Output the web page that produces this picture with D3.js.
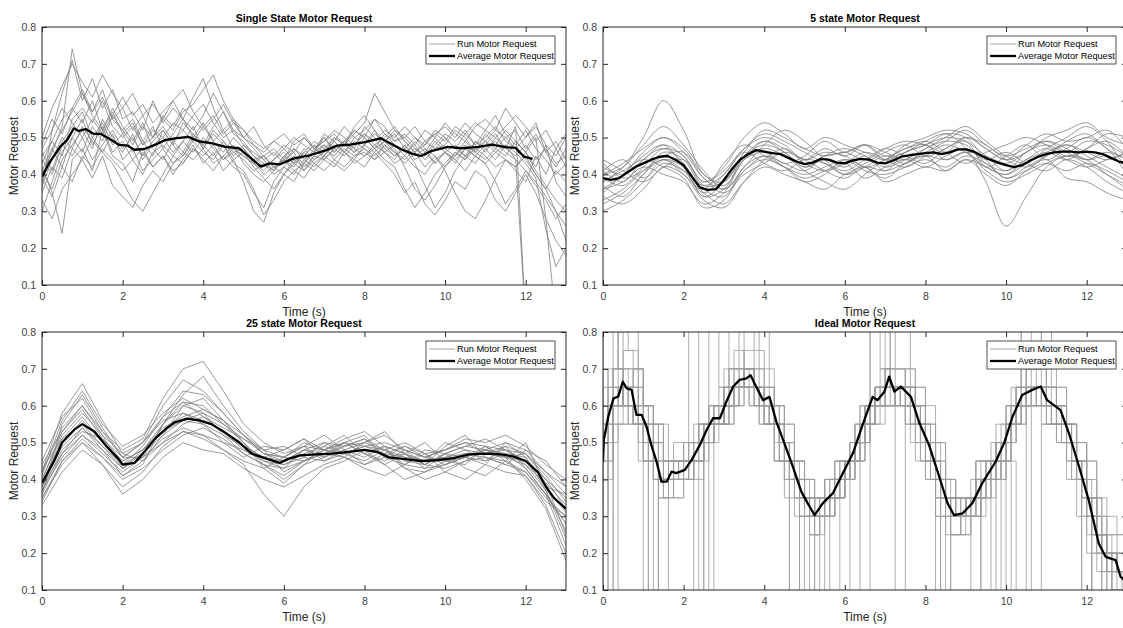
<!DOCTYPE html>
<html>
<head>
<meta charset="utf-8">
<script src="https://cdn.jsdelivr.net/npm/d3@7"></script>
<style>
  body { margin: 0; background: #fff; }
  svg text { font-family: "Liberation Sans", Arial, Helvetica, sans-serif; }
</style>
</head>
<body>
<div id="chart"></div>
<script>
// ---- data ----
var chartTitles = ["Single State Motor Request", "5 state Motor Request", "25 state Motor Request", "Ideal Motor Request"];
var legendLabels = ["Run Motor Request", "Average Motor Request"];
var xTicks = [0, 2, 4, 6, 8, 10, 12];
var yTicks = [0.1, 0.2, 0.3, 0.4, 0.5, 0.6, 0.7, 0.8];

// run values are in hundredths, one every runStep seconds from t = 0
var singleRunStep = 0.25;
var singleRuns = [
  [36,52,62,71, 60,66,58,63, 55,57,52,60, 54,58,55,61, 66,58,52,55, 50,48,45,47, 44,49,51,47, 50,46,49,52, 50,55,53,49, 50,47,45,48, 51,49,52,48, 50,53,49,47, 44,40,36,30, 22],
  [42,35,24,44, 47,41,52,45, 43,38,46,42, 45,40,44,48, 43,46,41,44, 38,30,27,35, 40,38,43,41, 44,42,46,43, 45,47,44,42, 36,31,35,40, 43,46,44,47, 45,42,44,41, 38,45,40,47, 42],
  [45,49,55,58, 63,57,61,55, 52,55,49,53, 47,51,55,50, 48,45,49,46, 44,41,43,40, 42,45,43,47, 45,49,46,50, 48,52,47,45, 48,44,46,50, 47,45,49,46, 51,48,52,49, 46,50,28,0, 0],
  [30,38,46,50, 55,48,53,46, 49,44,47,42, 45,41,43,47, 45,48,44,46, 47,43,45,42, 44,46,41,44, 47,45,48,46, 50,47,49,46, 44,47,45,49, 46,48,45,47, 49,46,48,44, 41,38,34,30, 26],
  [40,46,53,74, 62,57,63,55, 58,52,56,50, 53,49,52,56, 59,54,50,52, 48,46,44,46, 43,47,45,48, 46,50,48,51, 54,62,57,52, 49,46,48,52, 50,47,51,54, 52,56,51,48, 52,47,44,40, 43],
  [33,28,36,40, 44,39,45,37, 34,31,37,41, 38,43,46,44, 47,43,45,42, 40,35,31,38, 42,40,44,42, 45,43,41,44, 42,46,43,40, 35,38,32,29, 33,38,36,41, 39,33,30,35, 40,35,28,22, 18],
  [48,55,51,58, 54,60,52,57, 51,54,48,50, 55,52,57,59, 63,67,60,55, 52,49,47,49, 51,48,50,47, 49,52,50,48, 51,49,52,50, 53,50,48,51, 53,50,54,51, 49,52,50,47, 50,54,46,42, 47],
  [41,36,44,48, 52,47,55,50, 46,51,44,48, 50,46,49,53, 47,51,48,44, 46,42,39,36, 40,44,42,45, 48,44,47,45, 46,44,48,45, 47,50,47,45, 42,45,48,46, 44,47,45,49, 46,42,48,38, 34],
  [38,47,42,50, 46,53,49,56, 61,56,59,54, 57,60,55,52, 56,62,57,51, 49,45,43,41, 45,47,44,46, 50,47,49,47, 53,50,46,48, 45,49,46,43, 46,44,47,45, 48,51,47,53, 0],
  [44,40,48,45, 50,44,48,52, 47,50,45,49, 52,48,45,50, 54,49,52,47, 45,43,41,44, 46,43,45,48, 44,47,49,46, 48,51,49,47, 42,36,33,37, 42,46,44,49, 47,44,48,46, 43,39,25,15, 20],
  [46,41,49,53, 57,50,54,48, 51,46,49,45, 52,48,54,51, 47,52,49,45, 48,45,42,44, 47,44,46,49, 47,50,48,52, 50,47,51,48, 46,48,44,47, 50,47,45,49, 46,50,47,45, 48,44,47,43, 45],
  [35,42,39,47, 44,50,46,43, 38,33,30,35, 40,45,43,47, 44,41,45,48, 43,40,38,41, 44,42,46,43, 45,48,46,49, 47,45,48,46, 43,46,42,45, 41,35,30,28, 33,39,44,42, 46,41,37,33, 30],
  [50,58,64,70, 65,61,67,62, 58,62,56,59, 55,60,63,57, 53,56,51,54, 52,48,46,49, 47,50,48,46, 51,49,53,50, 52,55,51,49, 51,48,52,50, 54,51,49,53, 55,52,58,54, 50,53,48,45, 50],
  [37,44,50,47, 53,49,46,51, 44,47,41,44, 47,43,45,49, 46,44,48,43, 41,36,29,33, 38,41,39,43, 41,44,42,45, 47,44,46,43, 45,42,40,44, 46,43,47,45, 43,46,44,42, 45,40,36,41, 38],
  [43,49,45,55, 58,54,60,53, 50,53,48,52, 50,54,52,49, 53,49,46,50, 47,44,45,42, 40,43,41,45, 44,47,45,48, 51,48,50,53, 49,46,49,47, 48,52,50,46, 49,47,50,52, 47,51,46,49, 44],
  [41,47,52,57, 62,56,52,58, 53,49,54,47, 44,49,46,51, 48,53,57,52, 50,47,44,41, 45,43,47,44, 46,49,46,44, 48,46,49,51, 47,43,37,31, 35,41,45,43, 47,49,46,44, 0],
  [39,34,42,38, 45,42,47,44, 41,44,40,46, 48,45,49,46, 50,47,44,47, 45,43,40,42, 44,41,43,46, 48,46,49,47, 45,48,46,44, 48,45,47,43, 46,44,41,45, 43,38,32,36, 41,37,33,28, 32],
  [47,52,58,54, 50,55,51,56, 52,48,53,50, 56,53,58,55, 52,55,59,54, 50,53,48,45, 48,46,50,47, 49,51,48,53, 56,52,49,52, 50,53,49,51, 49,53,51,48, 52,50,53,56, 53,49,52,47, 51]
];
var singleAvgTime = [0,0.2,0.45,0.62,0.79,0.91,1.08,1.29,1.46,1.7,1.92,2.13,2.29,2.54,2.8,3.05,3.3,3.63,3.88,4.2,4.55,4.89,5.14,5.43,5.64,5.89,6.23,6.64,7.06,7.31,7.65,7.98,8.4,8.65,8.9,9.16,9.4,9.65,10.07,10.41,10.83,11.16,11.5,11.75,11.96,12.17];
var singleAvgValue = [0.394,0.435,0.475,0.493,0.525,0.518,0.523,0.51,0.51,0.495,0.48,0.478,0.467,0.469,0.48,0.493,0.498,0.502,0.49,0.485,0.475,0.471,0.448,0.421,0.43,0.427,0.443,0.452,0.466,0.478,0.481,0.487,0.498,0.484,0.469,0.457,0.45,0.463,0.475,0.471,0.475,0.481,0.474,0.472,0.448,0.442];

var fiveRunStep = 0.5;
var fiveRuns = [
  [38,42,50,60,52,40,38,46,52,50,47,45,46,44,47,49,48,46,50,47,44,48,51,49,50,52,47],
  [34,32,36,42,40,33,31,38,44,47,43,41,43,46,44,42,45,48,46,42,40,43,46,44,47,49,45],
  [40,43,47,50,46,39,36,42,48,52,49,44,40,42,45,43,47,50,53,49,45,43,47,50,53,49,41],
  [30,33,38,44,42,35,32,38,42,40,38,36,40,42,38,40,42,41,44,40,37,41,44,39,38,35,33],
  [42,40,44,48,45,38,42,50,54,51,47,50,48,46,44,48,50,52,51,47,44,46,50,52,54,50,48],
  [36,38,42,40,38,32,35,44,47,45,41,38,36,40,44,46,49,51,47,38,26,34,42,45,44,40,36],
  [44,41,38,42,44,38,41,47,50,48,44,47,45,48,46,44,46,49,52,48,45,47,49,46,44,46,44],
  [32,35,40,46,44,36,34,42,45,42,38,40,44,42,39,43,45,41,44,42,40,44,46,48,45,42,39],
  [39,37,42,47,45,37,38,44,46,43,45,49,46,48,45,47,49,46,43,46,48,50,48,45,47,51,50],
  [35,40,45,48,42,34,36,45,49,46,42,44,42,45,41,46,48,51,50,44,39,42,45,48,46,44,46],
  [41,44,39,43,41,37,40,46,43,41,44,43,41,44,47,45,43,47,49,42,45,48,44,47,50,47,40],
  [37,34,40,44,40,36,43,48,45,42,39,41,43,39,42,44,42,45,47,44,46,43,41,44,42,38,35],
  [36,40,46,50,47,40,37,44,49,47,44,46,45,42,44,47,48,44,46,45,43,46,49,47,44,45,42],
  [43,39,41,44,41,35,40,47,51,49,46,43,40,43,46,48,45,47,50,48,44,42,45,49,51,47,44],
  [40,42,48,53,48,41,36,41,45,43,41,45,47,45,42,44,47,49,48,43,41,44,47,44,42,44,46],
  [33,36,41,45,46,39,35,40,43,46,44,41,39,42,41,43,45,44,46,41,38,40,43,45,43,40,37],
  [41,38,44,47,43,34,38,45,48,46,42,45,46,48,44,46,48,50,49,45,41,46,48,46,49,48,45],
  [38,41,44,42,39,31,33,41,44,42,40,42,44,41,40,42,44,42,45,43,39,41,43,41,43,41,38]
];
var fiveAvgTime = [0,0.2,0.4,0.6,0.8,1.0,1.2,1.4,1.6,1.8,2.0,2.2,2.4,2.6,2.8,3.0,3.2,3.4,3.6,3.8,4.0,4.2,4.4,4.6,4.8,5.0,5.2,5.4,5.6,5.8,6.0,6.2,6.4,6.6,6.8,7.0,7.2,7.4,7.6,7.8,8.0,8.2,8.4,8.6,8.8,9.0,9.2,9.4,9.6,9.8,10.0,10.2,10.4,10.6,10.8,11.0,11.2,11.4,11.6,11.8,12.0,12.2,12.4,12.6,12.8,13.0];
var fiveAvgValue = [0.39,0.385,0.39,0.405,0.42,0.43,0.44,0.448,0.45,0.44,0.425,0.395,0.365,0.358,0.36,0.385,0.415,0.44,0.455,0.466,0.462,0.458,0.455,0.445,0.435,0.428,0.432,0.442,0.44,0.432,0.43,0.438,0.442,0.44,0.432,0.43,0.438,0.448,0.452,0.455,0.458,0.46,0.455,0.46,0.468,0.468,0.462,0.45,0.44,0.432,0.425,0.42,0.425,0.438,0.448,0.455,0.46,0.462,0.462,0.46,0.462,0.46,0.455,0.445,0.435,0.43];

var twentyFiveRunStep = 0.5;
var twentyFiveRuns = [
  [36,55,63,54,46,50,60,67,64,58,52,47,45,48,50,49,51,46,49,46,48,50,47,49,43,36,28],
  [42,58,66,56,47,45,52,60,62,56,50,44,40,44,49,52,47,44,47,50,45,44,49,46,47,40,32],
  [38,47,52,48,41,44,55,63,68,60,53,48,42,45,48,46,50,52,48,44,47,49,51,48,44,39,25],
  [40,52,58,52,47,50,56,58,55,50,46,49,48,51,46,50,47,49,43,42,45,46,44,50,48,42,36],
  [35,45,50,44,38,42,49,53,51,48,44,36,30,38,43,45,48,44,40,42,44,46,49,45,41,33,20],
  [44,53,60,53,48,51,62,70,72,64,55,50,47,49,52,48,50,53,47,44,49,52,46,44,48,45,38],
  [33,42,48,44,36,40,46,50,48,47,43,40,38,41,44,46,43,41,44,47,42,40,44,42,41,34,30],
  [39,50,56,50,45,48,53,56,58,55,51,47,46,50,48,51,53,49,47,45,50,48,45,49,47,41,34],
  [41,56,64,55,49,52,58,62,59,56,52,48,49,46,50,47,49,50,48,46,48,51,50,52,49,44,40],
  [37,46,52,47,42,46,51,54,52,48,45,43,46,49,45,48,44,47,43,40,42,45,48,46,40,32,18],
  [43,51,55,49,44,49,57,61,57,53,48,46,48,51,48,47,45,48,50,47,44,47,46,45,50,38,36],
  [34,45,51,46,40,43,48,52,54,51,47,44,41,45,47,50,52,46,44,48,47,43,41,45,42,35,30],
  [40,53,59,51,45,48,55,61,60,55,50,45,44,47,49,47,49,48,45,44,47,49,48,46,44,37,26],
  [37,48,53,51,46,46,50,55,57,54,51,48,46,45,48,50,47,45,48,46,45,46,48,50,46,39,33],
  [42,54,60,52,43,46,55,60,58,52,47,44,43,48,46,49,51,48,44,43,47,46,45,47,43,36,22],
  [38,49,54,48,43,47,52,56,55,52,49,46,44,46,45,47,48,47,46,45,46,48,47,46,45,40,35],
  [35,44,50,46,41,45,50,53,52,50,48,45,43,45,47,46,44,46,47,44,43,45,46,44,42,36,28],
  [45,57,62,53,46,50,57,64,63,58,52,47,46,49,48,50,49,47,49,47,48,50,49,48,47,42,38],
  [39,51,57,50,44,47,53,58,56,53,49,46,45,48,47,49,50,48,46,45,46,47,47,48,45,38,31],
  [36,47,54,49,43,48,54,57,59,56,50,43,39,44,46,48,46,49,47,43,44,46,48,47,46,37,24]
];
var twentyFiveAvgTime = [0,0.3,0.5,0.8,1.0,1.3,1.6,1.9,2.0,2.3,2.5,2.8,3.1,3.3,3.6,3.9,4.2,4.5,4.9,5.2,5.6,5.9,6.1,6.4,6.8,7.2,7.6,8.0,8.3,8.6,9.0,9.4,9.8,10.2,10.6,11.0,11.4,11.7,12.0,12.3,12.5,12.7,12.9,13.0];
var twentyFiveAvgValue = [0.39,0.45,0.5,0.535,0.55,0.53,0.49,0.455,0.44,0.445,0.47,0.51,0.54,0.555,0.565,0.56,0.55,0.53,0.5,0.47,0.455,0.445,0.455,0.465,0.468,0.47,0.475,0.48,0.475,0.46,0.455,0.45,0.452,0.458,0.468,0.47,0.468,0.462,0.45,0.42,0.38,0.35,0.33,0.32];

var idealRunStep = 0.25;
var idealRuns = [
  [45,55,65,65, 60,55,45,40, 40,45,50,55, 60,65,70,70, 65,60,50,40, 35,30,30,35, 40,45,55,60, 65,65,70,60, 50,45,35,30, 30,35,40,45, 50,60,65,65, 65,60,55,45, 35,25,20,15, 10],
  [40,70,80,85, 55,50,5,40, 45,45,55,60, 65,70,65,65, 60,55,45,40, 5,25,35,40, 45,50,60,85, 70,65,60,55, 45,40,30,25, 35,40,5,50, 55,65,70,60, 60,55,50,40, 30,5,15,10, 5],
  [50,65,70,60, 55,45,40,35, 40,40,45,55, 60,60,65,70, 60,55,45,35, 30,30,35,40, 45,45,55,60, 65,60,65,60, 55,40,30,30, 30,35,45,45, 55,60,60,70, 60,55,50,45, 40,30,25,20, 15],
  [5,60,65,70, 5,50,35,45, 45,5,50,55, 55,65,85,65, 65,60,55,45, 40,5,30,35, 40,50,55,60, 85,70,65,60, 50,5,40,30, 30,35,40,40, 45,5,60,65, 70,65,55,50, 45,25,15,20, 10],
  [55,60,65,60, 60,50,40,40, 45,50,55,60, 60,65,65,65, 60,55,50,40, 35,30,30,35, 40,45,50,60, 60,65,60,55, 50,45,35,30, 25,30,40,45, 50,55,60,65, 60,55,50,45, 35,30,20,15, 15],
  [35,80,85,60, 55,45,40,45, 40,45,50,55, 55,60,65,70, 65,60,50,45, 40,35,25,30, 35,45,50,60, 60,65,65,65, 55,45,35,35, 30,35,45,45, 50,60,65,65, 65,60,55,50, 40,30,20,5, 5],
  [60,70,65,60, 55,50,45,50, 40,45,50,55, 55,65,70,60, 55,55,45,40, 35,30,40,40, 45,50,60,65, 70,60,60,55, 50,40,35,30, 35,40,40,50, 55,60,65,65, 60,60,55,45, 35,25,20,15, 10],
  [30,50,55,60, 60,55,45,40, 40,45,45,50, 55,60,65,65, 60,55,45,40, 30,30,35,35, 40,45,50,55, 60,60,65,60, 55,50,40,35, 30,30,35,40, 45,55,60,60, 55,55,50,45, 40,35,25,20, 20],
  [20,55,60,70, 65,55,50,45, 45,50,55,55, 60,70,75,70, 70,65,55,45, 40,35,30,35, 35,45,50,55, 65,70,70,65, 60,50,40,35, 35,35,40,45, 50,55,65,70, 70,65,60,50, 40,30,25,20, 15],
  [85,65,60,55, 50,45,40,35, 40,45,50,55, 60,60,65,65, 60,55,50,45, 40,35,30,35, 40,45,55,55, 60,65,65,65, 60,50,40,35, 30,30,35,40, 50,55,60,60, 65,60,55,50, 45,35,30,25, 20],
  [70,5,85,75, 45,5,55,40, 45,85,50,55, 60,85,70,65, 85,55,50,5, 35,30,5,40, 40,50,5,60, 65,85,85,60, 55,40,5,35, 35,5,45,45, 5,60,85,70, 85,60,55,45, 5,35,5,15, 10],
  [45,45,55,55, 55,55,45,45, 45,45,45,55, 55,65,65,65, 65,55,55,45, 35,35,35,35, 45,45,55,55, 65,65,65,55, 55,45,35,35, 35,35,45,45, 45,55,65,65, 65,65,55,55, 45,35,25,25, 25],
  [40,60,70,70, 60,50,40,45, 45,50,50,55, 65,65,70,65, 60,55,50,45, 35,30,35,40, 40,50,55,65, 65,60,65,55, 50,40,35,30, 35,40,45,50, 55,60,65,65, 60,60,50,40, 35,25,15,15, 10],
  [50,65,60,65, 55,45,35,40, 40,45,55,60, 55,60,65,65, 60,60,50,40, 30,25,30,35, 45,50,60,60, 70,65,60,60, 50,45,35,25, 30,35,40,40, 50,60,60,65, 60,55,55,45, 35,25,20,15, 15],
  [45,5,65,60, 55,50,40,40, 45,45,50,5, 60,65,65,70, 65,55,45,40, 35,5,35,40, 40,45,50,60, 65,65,5,60, 50,45,35,30, 30,35,40,45, 5,60,65,60, 65,60,55,45, 40,25,20,5, 10],
  [55,60,65,70, 60,55,45,40, 40,40,50,55, 60,70,70,65, 60,55,50,40, 35,35,35,40, 45,45,55,60, 60,65,65,60, 55,45,35,35, 30,35,40,45, 50,55,65,65, 65,60,50,45, 35,30,20,20, 15],
  [85,85,70,60, 50,45,40,45, 45,50,55,85, 65,70,65,60, 55,60,50,45, 40,30,30,35, 40,45,55,85, 85,65,65,60, 50,40,35,30, 30,35,40,40, 45,55,85,85, 60,55,55,45, 35,25,20,15, 15],
  [40,55,60,60, 55,45,40,40, 35,40,45,55, 55,60,60,65, 60,55,45,40, 35,30,30,30, 35,45,50,55, 60,60,60,55, 45,40,30,25, 25,30,35,40, 45,55,60,60, 60,55,50,40, 30,20,15,15, 5],
  [50,70,75,70, 60,55,45,45, 50,50,55,60, 65,70,75,75, 70,60,55,45, 40,35,40,45, 45,55,60,65, 70,70,70,65, 55,50,40,35, 35,40,45,50, 55,65,70,70, 65,65,55,50, 40,30,25,20, 20],
  [5,60,60,55, 55,5,35,40, 40,45,5,55, 55,60,65,60, 55,55,45,5, 30,25,30,35, 5,45,50,60, 60,60,60,50, 45,40,5,25, 25,30,35,45, 45,55,60,5, 55,55,50,40, 5,20,15,10, 5]
];
var idealAvgTime = [0,0.02,0.13,0.26,0.38,0.49,0.59,0.71,0.83,0.96,1.08,1.2,1.33,1.45,1.58,1.7,1.82,2.03,2.2,2.4,2.57,2.73,2.9,3.06,3.23,3.39,3.56,3.66,3.76,3.97,4.13,4.3,4.5,4.71,4.92,5.08,5.25,5.45,5.7,5.95,6.2,6.44,6.69,6.81,6.98,7.1,7.23,7.39,7.64,7.85,8.09,8.34,8.55,8.71,8.92,9.16,9.41,9.74,9.95,10.16,10.4,10.65,10.86,11.02,11.35,11.56,11.81,12.05,12.3,12.47,12.72,12.84,13];
var idealAvgValue = [0.448,0.507,0.57,0.62,0.625,0.665,0.647,0.643,0.575,0.575,0.543,0.493,0.448,0.394,0.394,0.421,0.417,0.426,0.453,0.493,0.534,0.566,0.566,0.611,0.652,0.67,0.674,0.683,0.66,0.615,0.624,0.557,0.498,0.435,0.367,0.335,0.303,0.335,0.362,0.417,0.471,0.548,0.624,0.615,0.638,0.679,0.638,0.652,0.624,0.553,0.493,0.408,0.335,0.303,0.308,0.335,0.39,0.448,0.498,0.57,0.629,0.643,0.652,0.615,0.588,0.525,0.435,0.344,0.226,0.19,0.181,0.136,0.12];

// ---- layout ----
var svgWidth = 1123;
var svgHeight = 628;
var axisColor = "#262626";

// step runs alternate where the jump sits so they don't all line up
var stepCurves = [d3.curveStepAfter, d3.curveStep, d3.curveStepBefore];

var panels = [
  {title: chartTitles[0], runs: singleRuns, step: singleRunStep, avgTime: singleAvgTime, avgValue: singleAvgValue,
   curve: () => d3.curveLinear, runColor: "#808080", left: 42, right: 566, top: 27, bottom: 285},
  {title: chartTitles[1], runs: fiveRuns, step: fiveRunStep, avgTime: fiveAvgTime, avgValue: fiveAvgValue,
   curve: () => d3.curveCatmullRom, runColor: "#808080", left: 603, right: 1127, top: 27, bottom: 285},
  {title: chartTitles[2], runs: twentyFiveRuns, step: twentyFiveRunStep, avgTime: twentyFiveAvgTime, avgValue: twentyFiveAvgValue,
   curve: () => d3.curveLinear, runColor: "#808080", left: 42, right: 566, top: 332, bottom: 590},
  {title: chartTitles[3], runs: idealRuns, step: idealRunStep, avgTime: idealAvgTime, avgValue: idealAvgValue,
   curve: i => stepCurves[i % 3], runColor: "#9c9c9c", left: 603, right: 1127, top: 332, bottom: 590}
];

var svg = d3.select("#chart").append("svg")
    .attr("width", svgWidth)
    .attr("height", svgHeight);

function drawPanel(p, index) {
    // scales
    var xScale = d3.scaleLinear().domain([0, 13]).range([p.left, p.right]);
    var yScale = d3.scaleLinear().domain([0.1, 0.8]).range([p.bottom, p.top]);

    var clipId = "clip" + index;
    svg.append("clipPath").attr("id", clipId)
        .append("rect")
        .attr("x", p.left)
        .attr("y", p.top)
        .attr("width", p.right - p.left)
        .attr("height", p.bottom - p.top);

    var plot = svg.append("g").attr("clip-path", `url(#${clipId})`);

    // run lines
    plot.selectAll(".run")
        .data(p.runs)
        .enter()
        .append("path")
        .classed("run", true)
        .attr("d", function(run, k) {
            return d3.line()
                .x((d, i) => xScale(i * p.step))
                .y(d => yScale(d / 100))
                .curve(p.curve(k))(run);
        })
        .attr("fill", "none")
        .attr("stroke", p.runColor)
        .attr("stroke-width", 0.8);

    // average line
    var avgLine = d3.line()
        .x((d, i) => xScale(p.avgTime[i]))
        .y(d => yScale(d));

    plot.append("path")
        .datum(p.avgValue)
        .attr("d", avgLine)
        .attr("fill", "none")
        .attr("stroke", "#000")
        .attr("stroke-width", 2.3)
        .attr("stroke-linejoin", "round");

    // axes, ticks pointing inward like matlab
    var bottomAxis = d3.axisBottom(xScale).tickValues(xTicks).tickSizeInner(-5).tickSizeOuter(0).tickPadding(8);
    var topAxis = d3.axisTop(xScale).tickValues(xTicks).tickSizeInner(-5).tickSizeOuter(0).tickFormat("");
    var leftAxis = d3.axisLeft(yScale).tickValues(yTicks).tickSizeInner(-5).tickSizeOuter(0).tickPadding(6).tickFormat(d3.format(".1f"));
    var rightAxis = d3.axisRight(yScale).tickValues(yTicks).tickSizeInner(-5).tickSizeOuter(0).tickFormat("");

    var axes = [
        [bottomAxis, `translate(0, ${p.bottom})`],
        [topAxis, `translate(0, ${p.top})`],
        [leftAxis, `translate(${p.left}, 0)`],
        [rightAxis, `translate(${p.right}, 0)`]
    ];
    axes.forEach(function(a) {
        var g = svg.append("g").attr("transform", a[1]).call(a[0]);
        g.select(".domain").remove();
        g.selectAll("line").attr("stroke", axisColor);
        g.selectAll("text").attr("fill", "#404040").attr("font-size", "10.5px");
    });

    // box
    svg.append("rect")
        .attr("x", p.left)
        .attr("y", p.top)
        .attr("width", p.right - p.left)
        .attr("height", p.bottom - p.top)
        .attr("fill", "none")
        .attr("stroke", axisColor)
        .attr("stroke-width", 1);

    // title
    svg.append("text")
        .attr("x", (p.left + p.right) / 2)
        .attr("y", p.top - 5)
        .attr("text-anchor", "middle")
        .attr("font-size", "10.5px")
        .attr("font-weight", "bold")
        .attr("fill", "#000")
        .text(p.title);

    // axis labels
    svg.append("text")
        .attr("x", (p.left + p.right) / 2)
        .attr("y", p.bottom + 31)
        .attr("text-anchor", "middle")
        .attr("font-size", "12px")
        .attr("fill", axisColor)
        .text("Time (s)");

    svg.append("text")
        .attr("transform", `translate(${p.left - 24}, ${(p.top + p.bottom) / 2}) rotate(-90)`)
        .attr("text-anchor", "middle")
        .attr("font-size", "12px")
        .attr("fill", axisColor)
        .text("Motor Request");

    // legend
    var legend = svg.append("g")
        .attr("transform", `translate(${p.right - 11 - 129}, ${p.top + 9})`);

    legend.append("rect")
        .attr("width", 129)
        .attr("height", 28)
        .attr("fill", "#fff")
        .attr("stroke", axisColor)
        .attr("stroke-width", 0.8);

    var legendStyles = [["#a6a6a6", 1], ["#000", 2.3]];
    legendLabels.forEach(function(label, i) {
        legend.append("line")
            .attr("x1", 3).attr("x2", 29)
            .attr("y1", 8 + i * 12).attr("y2", 8 + i * 12)
            .attr("stroke", legendStyles[i][0])
            .attr("stroke-width", legendStyles[i][1]);
        legend.append("text")
            .attr("x", 31)
            .attr("y", 8 + i * 12)
            .attr("dy", "0.35em")
            .attr("font-size", "9.2px")
            .attr("fill", "#000")
            .text(label);
    });
}

panels.forEach(drawPanel);
</script>
</body>
</html>
